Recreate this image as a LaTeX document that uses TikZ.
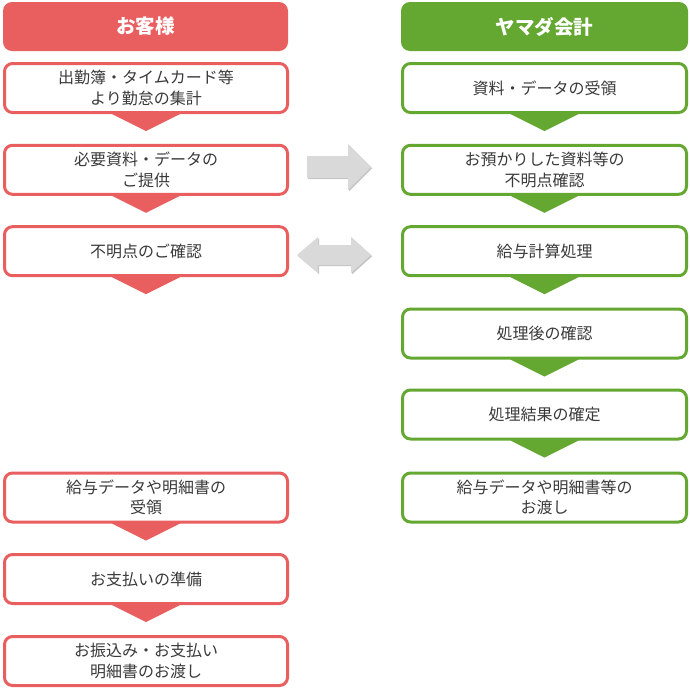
\documentclass[tikz,border=0pt]{standalone}
\usepackage{fontspec}
\usetikzlibrary{backgrounds}
\setmainfont{Noto Sans CJK JP}
\definecolor{cred}{HTML}{E95E5F}
\definecolor{cgreen}{HTML}{64A832}
\definecolor{ctext}{HTML}{3A3A3A}
\definecolor{carrow}{HTML}{D9D9D9}
\definecolor{cshadow}{HTML}{C4C4C4}
\tikzset{
  hdr/.style={rounded corners=9pt, minimum width=285pt, minimum height=49pt, inner sep=0pt,
    text=white, font=\fontsize{19.5}{22}\selectfont\bfseries},
  stepbox/.style={draw, line width=3pt, fill=white, rounded corners=8pt, minimum width=283pt,
    minimum height=49pt, inner sep=0pt, align=center, text=ctext,
    font=\fontsize{16}{20.5}\selectfont},
  redbox/.style={stepbox, draw=cred},
  greenbox/.style={stepbox, draw=cgreen, minimum width=284pt},
}
\begin{document}
\begin{tikzpicture}[x=1pt,y=-1pt]
\useasboundingbox (0,0) rectangle (690,689);
% headers
\node[hdr, fill=cred] (h1) at (145.5,26.5) {お客様};
\node[hdr, fill=cgreen, minimum width=287pt] (h2) at (544.5,26.5) {ヤマダ会計};
% left column
\node[redbox] (l1) at (146,88) {出勤簿・タイムカード等\\より勤怠の集計};
\node[redbox] (l2) at (146,169.8) {必要資料・データの\\ご提供};
\node[redbox] (l3) at (146,251.2) {不明点のご確認};
\node[redbox] (l4) at (146,497.5) {給与データや明細書の\\受領};
\node[redbox] (l5) at (146,579) {お支払いの準備};
\node[redbox] (l6) at (146,661) {お振込み・お支払い\\明細書のお渡し};
% right column
\node[greenbox] (r1) at (544.5,88) {資料・データの受領};
\node[greenbox] (r2) at (544.5,169.8) {お預かりした資料等の\\不明点確認};
\node[greenbox] (r3) at (544.5,251.2) {給与計算処理};
\node[greenbox] (r4) at (544.5,333.5) {処理後の確認};
\node[greenbox] (r5) at (544.5,414.5) {処理結果の確定};
\node[greenbox] (r6) at (544.5,497.5) {給与データや明細書等の\\お渡し};
% chevrons
\begin{scope}[on background layer]
\foreach \n in {l1,l2,l3,l4,l5} {
  \fill[cred] ([xshift=-34pt,yshift=5pt]\n.south) -- ([xshift=34pt,yshift=5pt]\n.south) -- ([xshift=34pt]\n.south) -- ([yshift=-17pt]\n.south) -- ([xshift=-34pt]\n.south) -- cycle;
}
\foreach \n in {r1,r2,r3,r4,r5} {
  \fill[cgreen] ([xshift=-34pt,yshift=5pt]\n.south) -- ([xshift=34pt,yshift=5pt]\n.south) -- ([xshift=34pt]\n.south) -- ([yshift=-17pt]\n.south) -- ([xshift=-34pt]\n.south) -- cycle;
}
\end{scope}
% gray arrows
\coordinate (a1) at (307,167);
\coordinate (a2) at (371,167);
\fill[cshadow] ([shift={(1.2,1.2)}]a1) ++(0,-11) -- ++(41,0) -- ++(0,-12) -- ++(23,23) -- ++(-23,23) -- ++(0,-12) -- ++(-41,0) -- cycle;
\fill[carrow] (a1) ++(0,-11) -- ++(41,0) -- ++(0,-12) -- (a2) -- ++(-23,23) -- ++(0,-12) -- ++(-41,0) -- cycle;
\coordinate (b1) at (297,255);
\coordinate (b2) at (371,255);
\fill[cshadow] ([shift={(1.2,1.2)}]b1) -- ++(21,-18) -- ++(0,8) -- ++(33,0) -- ++(0,-8) -- ++(20,18) -- ++(-20,18) -- ++(0,-8) -- ++(-33,0) -- ++(0,8) -- cycle;
\fill[carrow] (b1) -- ++(21,-18) -- ++(0,8) -- ++(33,0) -- ++(0,-8) -- (b2) -- ++(-20,18) -- ++(0,-8) -- ++(-33,0) -- ++(0,8) -- cycle;
\end{tikzpicture}
\end{document}
